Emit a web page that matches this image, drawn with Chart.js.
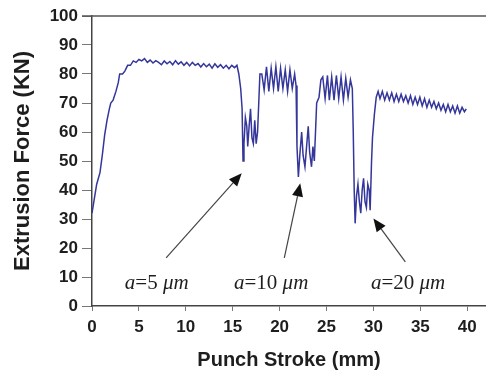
<!DOCTYPE html>
<html>
<head>
<meta charset="utf-8">
<script src="https://cdn.jsdelivr.net/npm/chart.js@4.4.1/dist/chart.umd.min.js"></script>
<style>
  html, body { margin: 0; padding: 0; background: #fff; }
</style>
</head>
<body>
<canvas id="chart" width="486" height="372"></canvas>
<script>
// punch stroke (mm) and extrusion force (kN)
const strokeMm = [
    0, 0.25, 0.5, 0.85, 1.1, 1.35, 1.6, 1.85, 2.0, 2.25, 2.55, 2.8, 2.95, 3.25, 3.5, 3.8, 4.1, 4.4, 4.7,
    5.0, 5.3, 5.6, 5.9, 6.2, 6.5, 6.8, 7.1, 7.4, 7.7, 8.0, 8.3, 8.6, 8.9, 9.2, 9.5, 9.8, 10.1, 10.4, 10.7,
    11.0, 11.3, 11.6, 11.9, 12.2, 12.5, 12.8, 13.1, 13.4, 13.7, 14.0, 14.3, 14.6, 14.9, 15.2, 15.45,
    15.65, 15.85, 16.0, 16.1, 16.2, 16.35, 16.5, 16.6, 16.75, 16.9, 17.05, 17.2, 17.35, 17.5, 17.65, 17.8, 17.9,
    18.1, 18.35, 18.6, 18.85, 19.1, 19.35, 19.6, 19.85, 20.1, 20.35, 20.6, 20.85, 21.1, 21.35, 21.6,
    21.75, 21.85, 22.0, 22.15, 22.35, 22.5, 22.7, 22.9, 23.05, 23.2, 23.4, 23.55, 23.7, 23.85, 23.95, 24.2, 24.4,
    24.6, 24.85, 25.1, 25.3, 25.55, 25.8, 26.05, 26.3, 26.55, 26.8, 27.05, 27.3, 27.55,
    27.75, 27.85, 27.95, 28.05, 28.2, 28.35, 28.5, 28.65, 28.8, 28.95, 29.1, 29.25, 29.4, 29.55, 29.65, 29.8, 29.9, 30.1,
    30.3, 30.5, 30.7, 30.95, 31.2, 31.45, 31.7, 31.95, 32.2, 32.45, 32.7, 32.95, 33.2, 33.45, 33.7, 33.95, 34.2, 34.45, 34.7, 34.95,
    35.2, 35.45, 35.7, 35.95, 36.2, 36.45, 36.7, 36.95, 37.2, 37.45, 37.7, 37.95, 38.2, 38.45, 38.7, 38.95, 39.2, 39.45, 39.7, 39.9
];
const forceKn = [
    32, 37, 42, 46, 52, 59, 64, 68, 70, 71, 74, 77, 80, 80, 81, 83, 83, 84.5, 84,
    85, 84.5, 85.3, 84, 84.8, 83.8, 84.6, 84, 83.2, 84.5, 83.5, 84.3, 83.2, 84.6, 83.4, 84.2, 83, 84, 82.8, 84,
    83, 83.6, 82.4, 83.6, 82.5, 83.4, 82, 83.5, 82.3, 83.2, 82, 83, 81.8, 83, 82.2, 83,
    80, 75, 68, 50, 56, 65, 62, 55, 62, 68, 58, 56, 64, 56, 60, 72, 80,
    80, 74.5, 82.5, 74, 82, 75, 82.5, 74, 82, 75, 81.5, 74, 81.5, 75, 80,
    76, 55, 44.5, 52, 60, 52, 48, 56, 62, 53, 48, 55, 50, 62, 70, 72, 78,
    79, 71.5, 79.5, 71, 79, 71, 79.5, 71.5, 79, 71, 78.5, 72, 78,
    75, 60, 40, 28.5, 38, 42, 36, 32, 40, 44, 36, 34, 42, 40, 33, 50, 58, 66,
    72, 74, 71.5, 74, 71, 73.5, 71, 73.5, 70.5, 73, 70.5, 73, 70.5, 72.5, 70, 72.5, 69.5, 72, 69.5, 72,
    69, 71.5, 68.5, 71, 68.5, 70.5, 68, 70, 67.5, 69.5, 67, 69.5, 67, 69, 66.5, 69, 66.5, 68.5, 67, 68
];

// groove sizes and where their callouts sit (data units)
const grooveSizes = ['5', '10', '20'];
const labelAt = [[6.9, 6.0], [19.1, 6.0], [33.7, 6.0]];
const arrowFrom = [[7.9, 16.6], [20.5, 16.6], [33.4, 15.2]];
const arrowTo = [[15.96, 45.8], [22.2, 42.3], [30.0, 30.2]];

const TICK_FONT = { family: '"Liberation Sans", Arial, sans-serif', size: 17, weight: 'bold' };
const LABEL_FONT = '21px "Liberation Serif", "Times New Roman", serif';
const INK = '#1e1e1e';

const callouts = {
    id: 'callouts',
    afterDraw(chart) {
        const { ctx, chartArea, scales: { x, y } } = chart;
        ctx.save();

        // top frame line
        ctx.strokeStyle = '#555';
        ctx.lineWidth = 1.5;
        ctx.beginPath();
        ctx.moveTo(chartArea.left - 10, chartArea.top);
        ctx.lineTo(chartArea.right, chartArea.top);
        ctx.stroke();

        grooveSizes.forEach((size, i) => {
            const x0 = x.getPixelForValue(arrowFrom[i][0]), y0 = y.getPixelForValue(arrowFrom[i][1]);
            const x1 = x.getPixelForValue(arrowTo[i][0]), y1 = y.getPixelForValue(arrowTo[i][1]);
            const ang = Math.atan2(y1 - y0, x1 - x0);
            const head = 13, half = 5.5;
            const bx = x1 - head * Math.cos(ang), by = y1 - head * Math.sin(ang);

            ctx.strokeStyle = '#444';
            ctx.lineWidth = 1.2;
            ctx.beginPath();
            ctx.moveTo(x0, y0);
            ctx.lineTo(bx, by);
            ctx.stroke();

            ctx.fillStyle = '#111';
            ctx.beginPath();
            ctx.moveTo(x1, y1);
            ctx.lineTo(bx + half * Math.sin(ang), by - half * Math.cos(ang));
            ctx.lineTo(bx - half * Math.sin(ang), by + half * Math.cos(ang));
            ctx.closePath();
            ctx.fill();

            // "a=5 μm" with the symbols in italics
            const parts = [['a', 'italic '], ['=' + size + ' ', ''], ['μm', 'italic ']];
            let total = 0;
            parts.forEach(p => {
                ctx.font = p[1] + LABEL_FONT;
                total += ctx.measureText(p[0]).width;
            });
            let tx = x.getPixelForValue(labelAt[i][0]) - total / 2;
            const ty = y.getPixelForValue(labelAt[i][1]);
            ctx.fillStyle = INK;
            ctx.textBaseline = 'alphabetic';
            ctx.textAlign = 'left';
            parts.forEach(p => {
                ctx.font = p[1] + LABEL_FONT;
                ctx.fillText(p[0], tx, ty);
                tx += ctx.measureText(p[0]).width;
            });
        });
        ctx.restore();
    }
};

new Chart(document.getElementById('chart'), {
    type: 'line',
    data: {
        datasets: [{
            data: strokeMm.map((s, i) => ({ x: s, y: forceKn[i] })),
            borderColor: '#34369a',
            borderWidth: 1.5,
            pointRadius: 0,
            tension: 0,
            fill: false
        }]
    },
    options: {
        responsive: false,
        animation: false,
        devicePixelRatio: 1,
        layout: { padding: { top: 16, right: 0, left: 0, bottom: 0 } },
        plugins: { legend: { display: false }, tooltip: { enabled: false } },
        scales: {
            x: {
                type: 'linear',
                min: 0, max: 42,
                afterBuildTicks(scale) { scale.ticks = scale.ticks.filter(t => t.value <= 40); },
                afterFit(scale) { scale.height = 66; },
                ticks: { stepSize: 5, includeBounds: false, color: INK, font: TICK_FONT, padding: 6, maxRotation: 0 },
                grid: { drawOnChartArea: false, drawTicks: true, tickLength: 5, color: '#777' },
                border: { color: '#444', width: 1.5 },
                title: {
                    display: true, text: 'Punch Stroke (mm)', color: INK,
                    font: { family: TICK_FONT.family, size: 20, weight: 'bold' },
                    padding: { top: 0, bottom: 0 }
                }
            },
            y: {
                min: 0, max: 100,
                afterFit(scale) { scale.width = 92; },
                ticks: { stepSize: 10, color: INK, font: TICK_FONT, padding: 4 },
                grid: { drawOnChartArea: false, drawTicks: true, tickLength: 10, color: '#777' },
                border: { color: '#444', width: 1.5 },
                title: {
                    display: true, text: 'Extrusion Force (KN)', color: INK,
                    font: { family: TICK_FONT.family, size: 22, weight: 'bold' },
                    padding: { top: 10, bottom: 0 }
                }
            }
        }
    },
    plugins: [callouts]
});
</script>
</body>
</html>
